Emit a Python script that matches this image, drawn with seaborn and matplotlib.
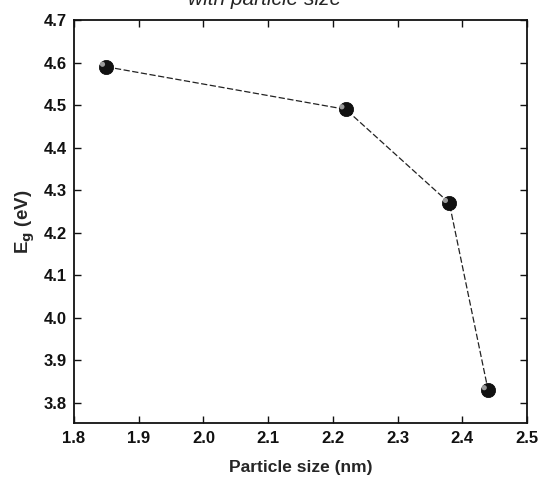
import matplotlib
matplotlib.use("Agg")
import matplotlib.pyplot as plt
import seaborn as sns
import pandas as pd

particle_size = [1.85, 2.22, 2.38, 2.44]
band_gap = [4.59, 4.49, 4.27, 3.83]
x_ticks = [1.8, 1.9, 2.0, 2.1, 2.2, 2.3, 2.4, 2.5]
y_ticks = [3.8, 3.9, 4.0, 4.1, 4.2, 4.3, 4.4, 4.5, 4.6, 4.7]

sns.set_style("ticks")
plt.rcParams['font.family'] = ['Liberation Sans', 'DejaVu Sans']

df = pd.DataFrame({"size": particle_size, "eg": band_gap})

fig = plt.figure(figsize=(5.41, 4.83), dpi=100)
ax = fig.add_axes([0.1368, 0.1242, 0.974 - 0.1368, 0.9586 - 0.1242])

sns.lineplot(data=df, x="size", y="eg", ax=ax, color="#222222", lw=0.9,
             linestyle=(0, (5, 2)), zorder=2)
sns.scatterplot(data=df, x="size", y="eg", ax=ax, color="#111111", s=105,
                edgecolor="#000000", linewidth=0.5, zorder=3)
# highlight to mimic sphere shading
ax.scatter(df["size"] - 0.006, df["eg"] + 0.006, s=14, color="#9a9a9a",
           edgecolor="none", zorder=4)

ax.set_xlim(1.8, 2.5)
ax.set_ylim(3.753, 4.7)
ax.set_xticks(x_ticks)
ax.set_yticks(y_ticks)
ax.set_xticklabels([f"{v:.1f}" for v in x_ticks], fontsize=12, fontweight="bold")
ax.set_yticklabels([f"{v:.1f}" for v in y_ticks], fontsize=12, fontweight="bold")
ax.tick_params(direction="in", length=5, width=1, top=True, right=True,
               colors="#111111")
ax.tick_params(axis="x", pad=6)
ax.tick_params(axis="y", pad=5)
for sp in ax.spines.values():
    sp.set_visible(True)
    sp.set_linewidth(1.3)
    sp.set_color("#111111")

ax.set_xlabel("Particle size (nm)", fontsize=12.5, fontweight="bold", labelpad=10)
ax.set_ylabel(r"E$_{\mathbf{g}}$ (eV)", fontsize=13.5, fontweight="bold", labelpad=5)

fig.text(0.49, 0.982, "with particle size", ha="center", va="bottom",
         fontsize=15, fontstyle="italic")

fig.savefig("out.png", dpi=100)
